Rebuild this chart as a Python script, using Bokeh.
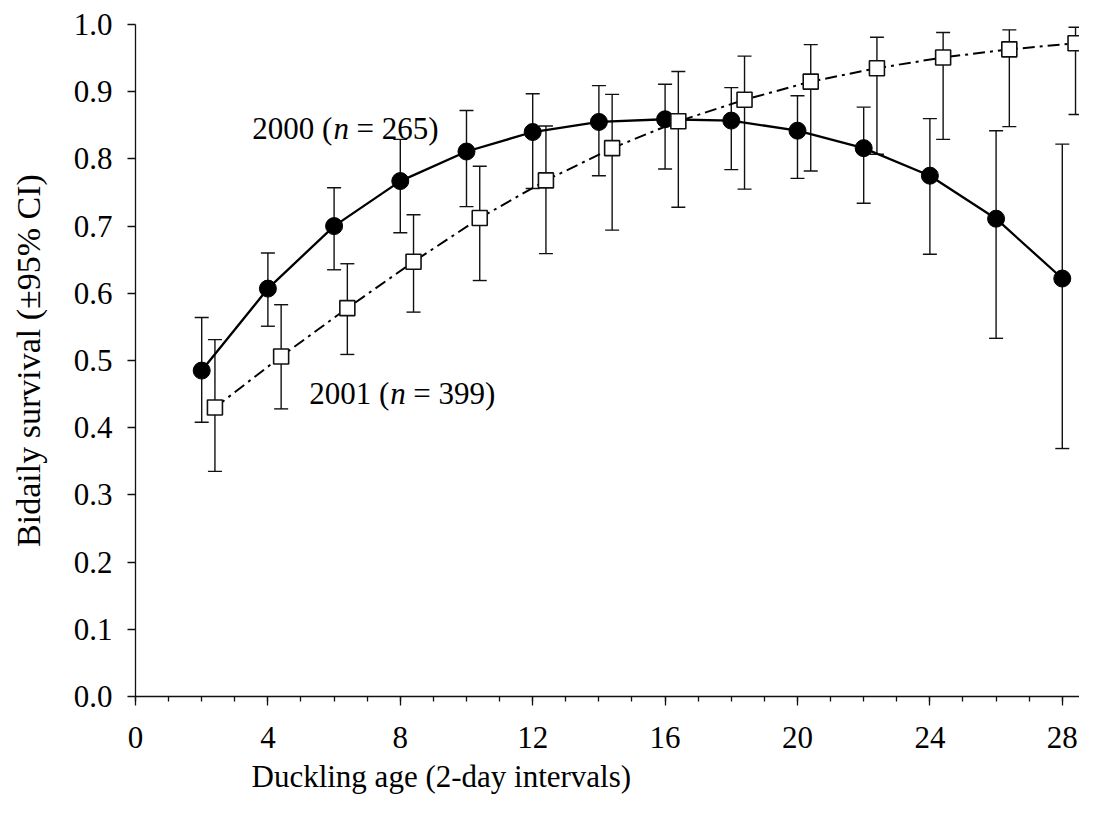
from bokeh.plotting import figure
from bokeh.models import ColumnDataSource, Range1d, FixedTicker, Whisker, TeeHead, Label, Title
from bokeh.models import CustomJSTickFormatter
from bokeh.transform import dodge
from bokeh.embed import file_html
from bokeh.resources import INLINE

# ---- data ----
age = [2, 4, 6, 8, 10, 12, 14, 16, 18, 20, 22, 24, 26, 28]

surv_2000 = [0.485, 0.607, 0.700, 0.767, 0.811, 0.840, 0.855, 0.859, 0.857, 0.842, 0.816, 0.775, 0.711, 0.622]
lo_2000 = [0.408, 0.551, 0.635, 0.690, 0.729, 0.756, 0.775, 0.785, 0.784, 0.771, 0.734, 0.658, 0.533, 0.369]
hi_2000 = [0.564, 0.660, 0.757, 0.829, 0.872, 0.897, 0.909, 0.911, 0.906, 0.894, 0.877, 0.860, 0.842, 0.822]

surv_2001 = [0.430, 0.506, 0.578, 0.647, 0.712, 0.768, 0.816, 0.856, 0.888, 0.915, 0.935, 0.951, 0.963, 0.972]
lo_2001 = [0.335, 0.428, 0.509, 0.572, 0.619, 0.659, 0.694, 0.728, 0.755, 0.782, 0.807, 0.829, 0.848, 0.866]
hi_2001 = [0.531, 0.583, 0.644, 0.717, 0.789, 0.849, 0.896, 0.930, 0.953, 0.970, 0.981, 0.988, 0.992, 0.996]

x_ticks = [0, 4, 8, 12, 16, 20, 24, 28]
x_minor_ticks = list(range(0, 29))
y_ticks = [0.0, 0.1, 0.2, 0.3, 0.4, 0.5, 0.6, 0.7, 0.8, 0.9, 1.0]

label_2000 = ["2000 (", "n", "= 265)"]
label_2001 = ["2001 (", "n", "= 399)"]
x_title = "Duckling age (2-day intervals)"
y_title = "Bidaily survival (\u00b195% CI)"

FONT = "Liberation Serif"
INK = "#111111"

src00 = ColumnDataSource(dict(age=age, s=surv_2000, lo=lo_2000, hi=hi_2000))
src01 = ColumnDataSource(dict(age=age, s=surv_2001, lo=lo_2001, hi=hi_2001))

p = figure(width=1079, height=803, output_backend="svg", toolbar_location=None,
           x_range=Range1d(0, 28.52), y_range=Range1d(0, 1.0),
           min_border_left=135, min_border_right=0, min_border_top=24, min_border_bottom=107)
p.outline_line_color = None
p.xgrid.visible = False
p.ygrid.visible = False
p.background_fill_color = "white"
p.border_fill_color = "white"

x01 = dodge("age", 0.4)

# error bars
for src, xb in ((src00, "age"), (src01, x01)):
    w = Whisker(source=src, base=xb, lower="lo", upper="hi", dimension="height",
                line_color=INK, line_width=1.4,
                upper_head=TeeHead(size=14, line_color=INK, line_width=1.4),
                lower_head=TeeHead(size=14, line_color=INK, line_width=1.4))
    p.add_layout(w)

# lines
p.line("age", "s", source=src00, line_color="black", line_width=2.3)
p.line(x01, "s", source=src01, line_color="black", line_width=2.0, line_dash="12 5 3 5")

# markers
p.scatter("age", "s", source=src00, marker="circle", size=17,
          fill_color="black", line_color="black")
p.scatter(x01, "s", source=src01, marker="square", size=15,
          fill_color="white", line_color=INK, line_width=1.6)

# series labels
def series_label(parts, xn, yb):
    a, n, b = parts
    common = dict(text_baseline="alphabetic", text_font=FONT, text_font_size="31px", text_color="black")
    p.add_layout(Label(x=xn, y=yb, text=a, text_align="right", x_offset=-1, **common))
    p.add_layout(Label(x=xn, y=yb, text=n, text_align="left", text_font_style="italic", **common))
    p.add_layout(Label(x=xn, y=yb, text=b, text_align="left", x_offset=23, **common))

series_label(label_2000, 5.98, 0.845)
series_label(label_2001, 7.70, 0.451)

# x axis title, placed left of centre as in the reference
t = Title(text=x_title, align="left", offset=116, standoff=13, vertical_align="bottom",
          text_line_height=0.8,
          text_font=FONT, text_font_size="31px", text_font_style="normal", text_color="black")
p.add_layout(t, "below")

# axes
for ax in (p.xaxis[0], p.yaxis[0]):
    ax.axis_line_color = INK
    ax.axis_line_width = 1.3
    ax.major_tick_line_color = INK
    ax.major_tick_line_width = 1.3
    ax.minor_tick_line_color = INK
    ax.minor_tick_line_width = 1.3
    ax.major_tick_in = 0
    ax.minor_tick_in = 0
    ax.major_label_text_font = FONT
    ax.major_label_text_font_size = "31px"
    ax.major_label_text_color = "black"

p.xaxis.ticker = FixedTicker(ticks=x_ticks, minor_ticks=x_minor_ticks)
p.xaxis.major_tick_out = 9
p.xaxis.minor_tick_out = 5
p.xaxis.major_label_standoff = 21

p.yaxis.ticker = FixedTicker(ticks=y_ticks, minor_ticks=[])
p.yaxis.major_tick_out = 8
p.yaxis.minor_tick_out = 0
p.yaxis.major_label_standoff = 15
p.yaxis.formatter = CustomJSTickFormatter(code="return tick.toFixed(1);")
p.yaxis.axis_label = y_title
p.yaxis.axis_label_text_font = FONT
p.yaxis.axis_label_text_font_size = "34px"
p.yaxis.axis_label_text_font_style = "normal"
p.yaxis.axis_label_text_color = "black"
p.yaxis.axis_label_standoff = 24

open("out.html", "w").write(file_html(p, INLINE))
